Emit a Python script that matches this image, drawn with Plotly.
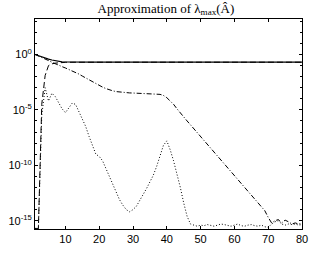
import plotly.graph_objects as go

# iteration index
x_iter = list(range(1, 81))

# log10 values
solid_exp = [0.0, -0.12, -0.22, -0.32, -0.42, -0.5, -0.57, -0.62, -0.66, -0.68,
             -0.69, -0.7] + [-0.7] * 68

dashed_exp = [-15.7, -15.7, -4.5, -1.9, -1.0, -0.85, -0.78, -0.74, -0.72, -0.71,
              -0.705, -0.7] + [-0.7] * 68

dashdot_exp = [0.0, -0.12, -0.25, -0.4, -0.55, -0.7, -0.85, -0.97, -1.1, -1.22,
               -1.35, -1.47, -1.6, -1.77, -1.95, -2.12, -2.3, -2.47, -2.65, -2.8,
               -2.95, -3.08, -3.2, -3.28, -3.35, -3.39, -3.42, -3.45, -3.47, -3.48,
               -3.5, -3.51, -3.52, -3.53, -3.54, -3.55, -3.57, -3.6, -3.7, -3.9,
               -4.2, -4.5, -4.9, -5.3, -5.65, -6.0, -6.35, -6.7, -7.05, -7.4,
               -7.75, -8.1, -8.45, -8.8, -9.15, -9.5, -9.85, -10.2, -10.55, -10.9,
               -11.25, -11.6, -11.95, -12.3, -12.65, -13.0, -13.35, -13.7, -14.1, -14.7,
               -15.2, -15.0, -14.9, -15.2, -14.95, -15.1, -15.3, -15.2, -15.3, -15.25]

dotted_exp = [-15.7, -15.7, -5.5, -3.0, -4.2, -3.5, -3.8, -4.4, -4.9, -5.25,
              -4.8, -4.4, -4.5, -5.2, -5.8, -6.5, -7.4, -8.3, -9.0, -9.2,
              -9.6, -10.3, -11.0, -11.7, -12.4, -13.1, -13.6, -14.0, -14.2, -14.0,
              -13.7, -13.2, -12.6, -12.1, -11.5, -10.9, -10.1, -9.1, -8.2, -7.8,
              -8.6, -9.6, -10.7, -12.0, -13.4, -14.6, -15.3, -15.4, -15.5, -15.4,
              -15.45, -15.35, -15.4, -15.5, -15.4, -15.3, -15.35, -15.45, -15.5, -15.4,
              -15.3, -15.45, -15.5, -15.4, -15.35, -15.45, -15.5, -15.4, -15.55, -15.6,
              -15.3, -15.1, -15.0, -15.3, -15.4, -15.3, -15.35, -15.3, -15.4, -15.35]

ytick_vals = [1e0, 1e-5, 1e-10, 1e-15]
ytick_text = ["10<sup>0</sup>", "10<sup>-5</sup>", "10<sup>-10</sup>", "10<sup>-15</sup>"]
xtick_vals = [10, 20, 30, 40, 50, 60, 70, 80]

fig = go.Figure()

def add(exps, dash, width=1.0):
    fig.add_trace(go.Scatter(
        x=x_iter, y=[10 ** e for e in exps], mode="lines",
        line=dict(color="black", width=width, dash=dash),
        showlegend=False, hoverinfo="skip"))

add(dotted_exp, "1px,2px")
add(dashdot_exp, "5px,2px,1px,2px")
add(dashed_exp, "6px,3px")
add(solid_exp, "solid", 1.2)

axis_common = dict(showline=True, linecolor="black", linewidth=1, mirror="ticks",
                   ticks="inside", ticklen=3, tickcolor="black", showgrid=False,
                   zeroline=False, tickfont=dict(family="Liberation Sans, Arial", size=11, color="black"))

fig.update_xaxes(range=[1, 80], tickvals=xtick_vals, **axis_common)
fig.update_yaxes(type="log", range=[-15.75, 3.2], tickvals=ytick_vals, ticktext=ytick_text,
                 minor=dict(tickvals=[10 ** k for k in range(-15, 4)], ticks="inside",
                            ticklen=2, tickcolor="black"),
                 **axis_common)

fig.update_layout(
    width=316, height=253,
    margin=dict(l=33, r=8, t=19, b=19, pad=0),
    paper_bgcolor="white", plot_bgcolor="white",
    title=dict(text="Approximation of λ<sub>max</sub>(Â)", x=0.525, xanchor="center",
               y=0.968, yanchor="middle",
               font=dict(family="Liberation Serif, DejaVu Serif", size=13, color="black")),
)

# remove the default page margin so the figure fills the window; hide the modebar
fig.write_html("out.html", config={"displayModeBar": False},
               post_script="document.body.style.margin='0';")
